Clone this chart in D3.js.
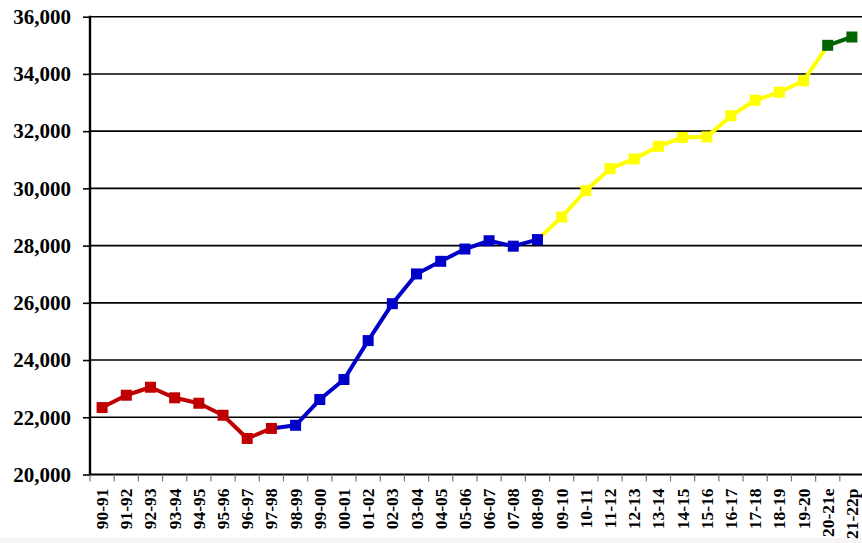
<!DOCTYPE html>
<html>
<head>
<meta charset="utf-8">
<script src="https://cdn.jsdelivr.net/npm/d3@7"></script>
<style>
  html, body { margin: 0; padding: 0; background: #fff; }
  svg { display: block; }
  text { font-family: "Liberation Serif", "Times New Roman", serif; font-weight: bold; fill: #000; }
</style>
</head>
<body>
<svg id="chart" width="862" height="543"></svg>
<script>
// School years on the category axis
const years = ["90-91","91-92","92-93","93-94","94-95","95-96","96-97","97-98","98-99","99-00",
               "00-01","01-02","02-03","03-04","04-05","05-06","06-07","07-08","08-09","09-10",
               "10-11","11-12","12-13","13-14","14-15","15-16","16-17","17-18","18-19","19-20",
               "20-21e","21-22p"];

// Values per year
const values = [22340, 22770, 23050, 22680, 22490, 22070, 21260, 21610, 21720, 22620,
                23320, 24680, 25970, 27010, 27450, 27880, 28170, 27980, 28210, 29000,
                29920, 30690, 31030, 31470, 31780, 31800, 32540, 33080, 33360, 33760,
                35000, 35290];

// Y-axis ticks
const yTicks = [20000, 22000, 24000, 26000, 28000, 30000, 32000, 34000, 36000];

// Coloured runs: marker index range, and the index range its line covers
const periods = [
  { name: "red",    color: "#C00000", first: 0,  last: 7,  lineFrom: 0,  lineTo: 7  },
  { name: "blue",   color: "#0000C8", first: 8,  last: 18, lineFrom: 7,  lineTo: 18 },
  { name: "yellow", color: "#FFFF00", first: 19, last: 29, lineFrom: 18, lineTo: 30 },
  { name: "green",  color: "#006400", first: 30, last: 31, lineFrom: 30, lineTo: 31 }
];

const svg = d3.select("#chart");
const plotL = 90, plotR = 864, plotT = 16.7, plotB = 474.5;

const x = d3.scaleBand().domain(years).range([plotL, plotR]).padding(0);
const y = d3.scaleLinear().domain([20000, 36000]).range([plotB, plotT]);
const cx = i => x(years[i]) + x.bandwidth() / 2;

// faint band along the very bottom
svg.append("rect").attr("x", 0).attr("y", 538).attr("width", 862).attr("height", 5).attr("fill", "#f6f4f4");

// Horizontal gridlines
svg.append("g").selectAll("line").data(yTicks.slice(1)).join("line")
  .attr("x1", plotL).attr("x2", 862)
  .attr("y1", d => y(d)).attr("y2", d => y(d))
  .attr("stroke", "#000").attr("stroke-width", 1.6);

// Y axis
const yAxis = d3.axisLeft(y).tickValues(yTicks).tickFormat(d3.format(",")).tickSize(7).tickPadding(12);
const gy = svg.append("g").attr("transform", `translate(${plotL},0)`).call(yAxis);
gy.select(".domain").remove();
gy.selectAll(".tick line").attr("stroke", "#000").attr("stroke-width", 1.6);
gy.selectAll(".tick text").attr("font-size", 21).attr("font-family", "Liberation Serif").attr("font-weight", "bold").attr("fill", "#000");
svg.append("line").attr("x1", plotL).attr("x2", plotL).attr("y1", plotT - 1).attr("y2", plotB + 1)
  .attr("stroke", "#000").attr("stroke-width", 2.4);

// X axis with ticks at category boundaries
svg.append("line").attr("x1", plotL).attr("x2", 862).attr("y1", plotB).attr("y2", plotB)
  .attr("stroke", "#000").attr("stroke-width", 2);
svg.append("g").selectAll("line").data(d3.range(years.length)).join("line")
  .attr("x1", i => x(years[i])).attr("x2", i => x(years[i]))
  .attr("y1", plotB).attr("y2", plotB + 7)
  .attr("stroke", "#777").attr("stroke-width", 1.2);

svg.append("g").selectAll("text").data(years).join("text")
  .attr("transform", (d, i) => `translate(${cx(i)},${plotB + 14}) rotate(-90)`)
  .attr("text-anchor", "end")
  .attr("dominant-baseline", "central")
  .attr("font-size", 17.5)
  .text(d => d);

// Line segments for each coloured run
const line = d3.line().x(i => cx(i)).y(i => y(values[i]));
const lines = svg.append("g");
periods.forEach(p => {
  lines.append("path")
    .attr("d", line(d3.range(p.lineFrom, p.lineTo + 1)))
    .attr("fill", "none").attr("stroke", p.color)
    .attr("stroke-width", 4).attr("stroke-linejoin", "round");
});

// Square markers
const ms = 11;
const markers = svg.append("g");
periods.forEach(p => {
  markers.selectAll(null).data(d3.range(p.first, p.last + 1)).join("rect")
    .attr("x", i => cx(i) - ms / 2).attr("y", i => y(values[i]) - ms / 2)
    .attr("width", ms).attr("height", ms)
    .attr("fill", p.color);
});
</script>
</body>
</html>
